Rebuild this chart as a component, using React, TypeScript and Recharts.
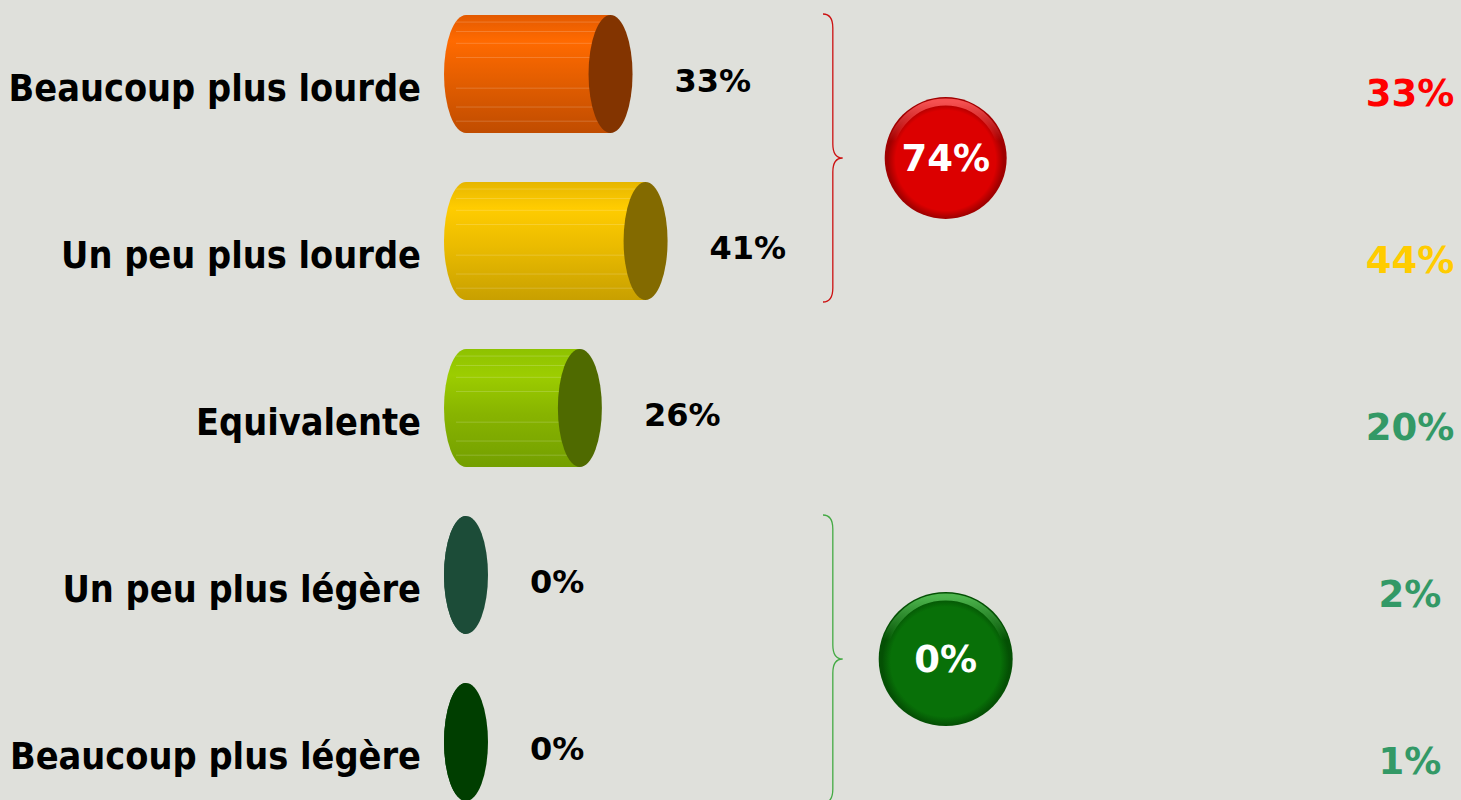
import { ComposedChart, Bar, XAxis, YAxis, LabelList, ReferenceArea } from 'recharts'

const CATEGORIES = ['Beaucoup plus lourde', 'Un peu plus lourde', 'Equivalente', 'Un peu plus légère', 'Beaucoup plus légère']
const CURRENT = [33, 41, 26, 0, 0]
const PREVIOUS = [33, 44, 20, 2, 1]
const GROUPS = [
  { from: 0, to: 1, tone: 'heavier' },
  { from: 3, to: 4, tone: 'lighter' },
]

const BAR_STYLES = [
  { top: '#e35a00', light: '#ff6a00', mid: '#e45e00', bottom: '#c04c00', cap: '#833400' },
  { top: '#e6b600', light: '#ffcc00', mid: '#eabb00', bottom: '#c8a000', cap: '#836a00' },
  { top: '#8ec200', light: '#9ccd00', mid: '#88b400', bottom: '#739f00', cap: '#4f6a00' },
  { top: '#1c4c38', light: '#1c4c38', mid: '#1c4c38', bottom: '#1c4c38', cap: '#1c4c38' },
  { top: '#003e00', light: '#003e00', mid: '#003e00', bottom: '#003e00', cap: '#003e00' },
]
const PREVIOUS_COLORS = ['#ff0000', '#ffcc00', '#339966', '#339966', '#339966']
const TONES: Record<string, { main: string; dark: string; light: string; brace: string; r: number }> = {
  heavier: { main: '#dc0000', dark: '#a00000', light: '#ff5a5a', brace: '#cc1111', r: 61 },
  lighter: { main: '#087008', dark: '#045004', light: '#55c055', brace: '#44aa44', r: 67 },
}

const rows = CATEGORIES.map((category, i) => ({ category, current: CURRENT[i], previous: PREVIOUS[i] }))

const BOLD = "'DejaVu Sans', Verdana, sans-serif"
const CONDENSED = "'DejaVu Sans Condensed', 'DejaVu Sans', sans-serif"
const STRIPES = [0.06, 0.14, 0.24, 0.36, 0.62, 0.78, 0.9]

function CylinderShape(props: any) {
  const { x, y, width, height, index } = props
  const s = BAR_STYLES[index]
  const rx = 22
  const ry = height / 2
  const w = Math.max(width, 0)
  const id = `body-${index}`
  return (
    <g>
      <defs>
        <linearGradient id={id} x1="0" y1="0" x2="0" y2="1">
          <stop offset="0" stopColor={s.top} />
          <stop offset="0.22" stopColor={s.light} />
          <stop offset="0.55" stopColor={s.mid} />
          <stop offset="1" stopColor={s.bottom} />
        </linearGradient>
      </defs>
      <path
        d={`M ${x} ${y} L ${x + w} ${y} L ${x + w} ${y + height} L ${x} ${y + height} A ${rx} ${ry} 0 0 1 ${x} ${y} Z`}
        fill={`url(#${id})`}
      />
      {w > 0 &&
        STRIPES.map((f) => (
          <line key={f} x1={x - 10} x2={x + w} y1={y + height * f} y2={y + height * f} stroke="#ffffff" strokeOpacity={0.18} strokeWidth={1} />
        ))}
      <ellipse cx={x + w} cy={y + ry} rx={rx} ry={ry} fill={s.cap} />
    </g>
  )
}

function ValueLabel(props: any) {
  const { x, y, width, height, value } = props
  return (
    <text x={x + width + 64} y={y + height / 2 + 7} dy="0.355em" fontFamily={BOLD} fontWeight="bold" fontSize={32} fill="#000">
      {value}%
    </text>
  )
}

function CategoryTick(props: any) {
  const { x, y, payload } = props
  return (
    <text x={x} y={y + 14} dy="0.355em" textAnchor="end" fontFamily={CONDENSED} fontStretch="condensed" fontWeight="bold" fontSize={37.5} fill="#000">
      {payload.value}
    </text>
  )
}

function PreviousTick(props: any) {
  const { x, y, index } = props
  return (
    <text x={x} y={y + 19} dy="0.355em" textAnchor="middle" fontFamily={BOLD} fontWeight="bold" fontSize={37} fill={PREVIOUS_COLORS[index]}>
      {PREVIOUS[index]}%
    </text>
  )
}

function GroupMark(props: any) {
  const { x, y, width, height, group } = props
  const t = TONES[group.tone]
  const total = CURRENT.slice(group.from, group.to + 1).reduce((a, b) => a + b, 0)
  const top = y + 24
  const bot = y + height - 22
  const mid = (top + bot) / 2
  const x0 = x
  const xm = x + width * 0.5
  const xt = x + width
  const r = 14
  const d = `M ${x0} ${top} Q ${xm} ${top} ${xm} ${top + r} L ${xm} ${mid - r} Q ${xm} ${mid} ${xt} ${mid} Q ${xm} ${mid} ${xm} ${mid + r} L ${xm} ${bot - r} Q ${xm} ${bot} ${x0} ${bot}`
  const cx = xt + 103
  const gid = `ball-${group.tone}`
  return (
    <g>
      <defs>
        <radialGradient id={gid} cx="50%" cy="52%" r="50%">
          <stop offset="0" stopColor={t.main} />
          <stop offset="0.82" stopColor={t.main} />
          <stop offset="0.95" stopColor={t.dark} />
          <stop offset="1" stopColor={t.dark} />
        </radialGradient>
        <linearGradient id={`${gid}-hl`} x1="0" y1="0" x2="0" y2="1">
          <stop offset="0" stopColor={t.light} stopOpacity={0.9} />
          <stop offset="0.35" stopColor={t.light} stopOpacity={0} />
        </linearGradient>
      </defs>
      <path d={d} fill="none" stroke={t.brace} strokeWidth={1.3} />
      <circle cx={cx} cy={mid} r={t.r} fill={`url(#${gid})`} />
      <circle cx={cx} cy={mid} r={t.r - 5} fill="none" stroke={`url(#${gid}-hl)`} strokeWidth={7} />
      <text x={cx} y={mid} dy="0.355em" textAnchor="middle" fontFamily={BOLD} fontWeight="bold" fontSize={37} fill="#fff">
        {total}%
      </text>
    </g>
  )
}

export default function App() {
  return (
    <div style={{ position: 'absolute', left: 0, top: 0, width: 1461, height: 800, overflow: 'hidden', background: '#dfe0db' }}>
      <div style={{ position: 'absolute', left: 0, top: -10 }}>
        <ComposedChart width={1461} height={835} data={rows} layout="vertical" margin={{ top: 0, right: 0, bottom: 0, left: 0 }}>
          <XAxis type="number" domain={[0, 100]} hide />
          <YAxis
            yAxisId="left"
            type="category"
            dataKey="category"
            width={466}
            axisLine={false}
            tickLine={false}
            tickSize={0}
            tickMargin={45}
            interval={0}
            tick={<CategoryTick />}
          />
          <YAxis
            yAxisId="right"
            orientation="right"
            type="category"
            dataKey="category"
            width={557}
            axisLine={false}
            tickLine={false}
            tickSize={0}
            tickMargin={506}
            interval={0}
            tick={<PreviousTick />}
          />
          <Bar yAxisId="left" dataKey="current" barSize={118} shape={<CylinderShape />} isAnimationActive={false}>
            <LabelList dataKey="current" content={<ValueLabel />} />
          </Bar>
          {GROUPS.map((g) => (
            <ReferenceArea
              key={g.tone}
              yAxisId="left"
              x1={81.5}
              x2={86}
              y1={CATEGORIES[g.from]}
              y2={CATEGORIES[g.to]}
              ifOverflow="visible"
              shape={<GroupMark group={g} />}
            />
          ))}
        </ComposedChart>
      </div>
    </div>
  )
}
